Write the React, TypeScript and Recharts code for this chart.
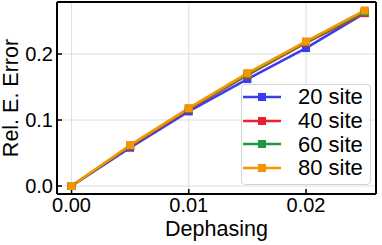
import { LineChart, Line, XAxis, YAxis, CartesianGrid } from 'recharts'

// dephasing rate (x) and relative energy error per system size
const dephasing = [0, 0.005, 0.01, 0.015, 0.02, 0.025]
const err20 = [0, 0.058, 0.113, 0.162, 0.209, 0.262]
const err40 = [0, 0.06, 0.116, 0.168, 0.217, 0.262]
const err60 = [0, 0.061, 0.117, 0.169, 0.218, 0.264]
const err80 = [0, 0.062, 0.118, 0.171, 0.219, 0.266]

const xTicks = [0, 0.01, 0.02]
const yTicks = [0, 0.1, 0.2]

const series = [
  { key: 's20', name: '20 site', color: '#3b3bf2', values: err20 },
  { key: 's40', name: '40 site', color: '#e8232f', values: err40 },
  { key: 's60', name: '60 site', color: '#1c9a3c', values: err60 },
  { key: 's80', name: '80 site', color: '#f59500', values: err80 },
]

const data = dephasing.map((d, i) => {
  const row: Record<string, number> = { d }
  series.forEach((s) => (row[s.key] = s.values[i]))
  return row
})

const FONT = '"Liberation Sans", Arial, sans-serif'

const squareDot = (color: string) => (props: any) => {
  const { cx, cy, index } = props
  return <rect key={index} x={cx - 4} y={cy - 4} width={8} height={8} fill={color} />
}

function LegendBox() {
  return (
    <div
      style={{
        position: 'absolute',
        left: 241,
        top: 84,
        width: 128,
        height: 99,
        border: '1px solid #d4d4d4',
        borderRadius: 4,
        background: 'rgba(255,255,255,0.85)',
        fontFamily: FONT,
        fontSize: 22,
        color: '#000',
      }}
    >
      {series.map((s) => (
        <div key={s.key} style={{ display: 'flex', alignItems: 'center', height: 23.8 }}>
          <svg width={40} height={10} style={{ marginLeft: 1 }}>
            <line x1={0} y1={5} x2={38} y2={5} stroke={s.color} strokeWidth={2.5} />
            <rect x={15} y={1} width={8} height={8} fill={s.color} />
          </svg>
          <span style={{ marginLeft: 15, lineHeight: '23.8px' }}>{s.name}</span>
        </div>
      ))}
    </div>
  )
}

export default function App() {
  const xDomain = [-0.00124, 0.02597]
  const yDomain = [-0.0121, 0.2788]
  return (
    <div style={{ position: 'absolute', left: 0, top: 0, width: 382, height: 245, fontFamily: FONT }}>
      <LineChart width={382} height={245} data={data} margin={{ top: 1, right: 5, left: 0, bottom: 0 }}>
        <CartesianGrid stroke="#dedede" strokeWidth={1} />
        <XAxis
          dataKey="d"
          type="number"
          domain={xDomain}
          ticks={xTicks}
          allowDataOverflow
          height={51}
          tickFormatter={(v) => v.toFixed(2)}
          tick={{ fontSize: 20, fill: '#000' }}
          tickSize={-5}
          tickMargin={9}
          tickLine={{ stroke: '#000', strokeWidth: 1.5 }}
          axisLine={{ stroke: '#000', strokeWidth: 2 }}
          label={{ value: 'Dephasing', position: 'insideBottom', offset: 9, fontSize: 21.5, fill: '#000' }}
        />
        <XAxis
          xAxisId="top"
          orientation="top"
          dataKey="d"
          type="number"
          domain={xDomain}
          ticks={xTicks}
          allowDataOverflow
          height={1}
          tick={false}
          tickSize={-5}
          tickLine={{ stroke: '#000', strokeWidth: 1.5 }}
          axisLine={{ stroke: '#000', strokeWidth: 2 }}
        />
        <YAxis
          type="number"
          domain={yDomain}
          ticks={yTicks}
          allowDataOverflow
          width={57}
          tickFormatter={(v) => v.toFixed(1)}
          tick={{ fontSize: 20, fill: '#000' }}
          tickSize={-5}
          tickMargin={9}
          tickLine={{ stroke: '#000', strokeWidth: 1.5 }}
          axisLine={{ stroke: '#000', strokeWidth: 2 }}
          label={(props: any) => {
            const vb = props.viewBox
            const cx = vb.x + 11
            const cy = vb.y + vb.height / 2
            return (
              <text
                x={cx}
                y={cy}
                transform={`rotate(-90 ${cx} ${cy})`}
                textAnchor="middle"
                dominantBaseline="central"
                fontSize={21.5}
                fill="#000"
              >
                Rel. E. Error
              </text>
            )
          }}
        />
        <YAxis
          yAxisId="right"
          orientation="right"
          type="number"
          domain={yDomain}
          ticks={yTicks}
          allowDataOverflow
          width={1}
          tick={false}
          tickSize={-5}
          tickLine={{ stroke: '#000', strokeWidth: 1.5 }}
          axisLine={{ stroke: '#000', strokeWidth: 2 }}
        />
        {series.map((s) => (
          <Line
            key={s.key}
            dataKey={s.key}
            name={s.name}
            stroke={s.color}
            strokeWidth={2.5}
            dot={squareDot(s.color)}
            activeDot={false}
            isAnimationActive={false}
          />
        ))}
      </LineChart>
      <LegendBox />
    </div>
  )
}
